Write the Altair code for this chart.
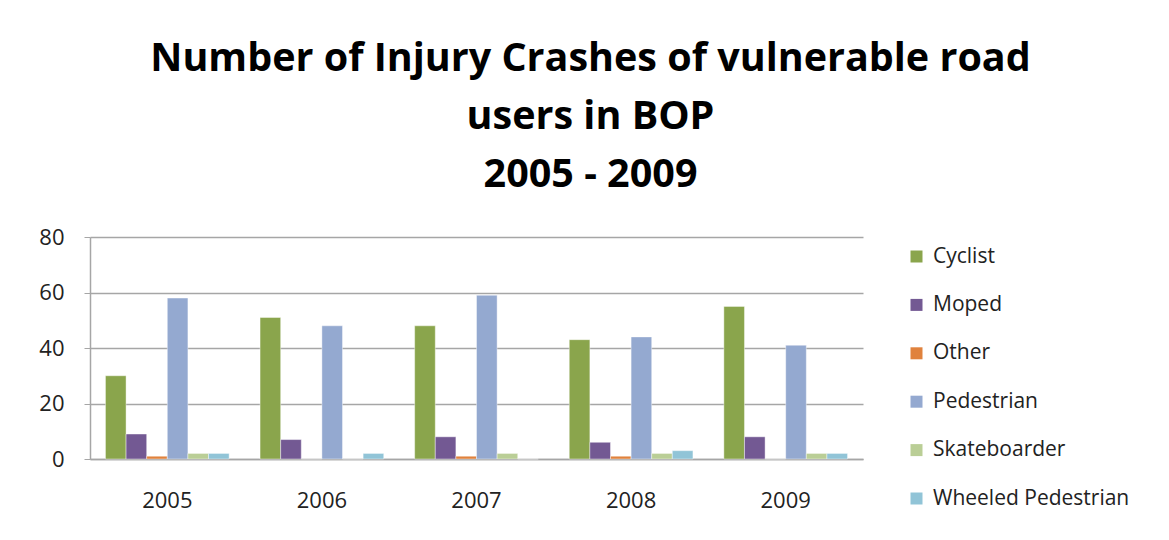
import altair as alt
import pandas as pd

years = ["2005", "2006", "2007", "2008", "2009"]
series = ["Cyclist", "Moped", "Other", "Pedestrian", "Skateboarder", "Wheeled Pedestrian"]
colors = ["#8AA54C", "#735993", "#E0823D", "#94A9D0", "#BACE96", "#91C4D7"]
cyclist = [30, 51, 48, 43, 55]
moped = [9, 7, 8, 6, 8]
other = [1, 0, 1, 1, 0]
pedestrian = [58, 48, 59, 44, 41]
skateboarder = [2, 0, 2, 2, 2]
wheeled = [2, 2, 0, 3, 2]

values = [cyclist, moped, other, pedestrian, skateboarder, wheeled]
rows = []
for s, vals in zip(series, values):
    for y, v in zip(years, vals):
        rows.append({"Year": y, "Type": s, "Count": v})
df = pd.DataFrame(rows)

FONT = "Open Sans"

chart = alt.Chart(df).mark_bar(stroke="white", strokeWidth=0.6, strokeOpacity=0.7).encode(
    x=alt.X("Year:N", sort=years, title=None,
            scale=alt.Scale(paddingInner=0.2, paddingOuter=0.1),
            axis=alt.Axis(labelAngle=0, labelFontSize=22, labelFont=FONT, labelColor="#222",
                          ticks=False, labelPadding=31, domainColor="#A6A6A6", domainWidth=1.5)),
    xOffset=alt.XOffset("Type:N", sort=series, scale=alt.Scale(paddingInner=0, paddingOuter=0)),
    y=alt.Y("Count:Q", title=None,
            scale=alt.Scale(domain=[0, 80]),
            axis=alt.Axis(values=[0, 20, 40, 60, 80], labelFontSize=22, labelFont=FONT,
                          labelColor="#222", tickSize=6, tickColor="#A6A6A6", labelPadding=20,
                          gridColor="#A6A6A6", gridWidth=1.5, domainColor="#A6A6A6",
                          domainWidth=1.5)),
    color=alt.Color("Type:N", sort=series,
                    scale=alt.Scale(domain=series, range=colors),
                    legend=alt.Legend(title=None, orient="none", legendX=816, legendY=9,
                                      symbolType="square", symbolSize=144, symbolStrokeWidth=0,
                                      labelFontSize=21, labelFont=FONT, labelColor="#222",
                                      labelLimit=400, rowPadding=26.4, labelOffset=6)),
).properties(
    width=773,
    height=222,
    padding={"left": 82, "top": 229, "right": 298, "bottom": 73},
    autosize=alt.AutoSizeParams(type="none"),
    title=alt.TitleParams(
        text=["Number of Injury Crashes of vulnerable road", "users in BOP", "2005 - 2009"],
        fontSize=39.5, font=FONT, fontWeight="bold", color="#000",
        lineHeight=58, anchor="middle", dx=114, offset=31,
    ),
).configure_view(stroke=None)

chart.save("out.html", embed_options={"renderer": "svg", "actions": False})
